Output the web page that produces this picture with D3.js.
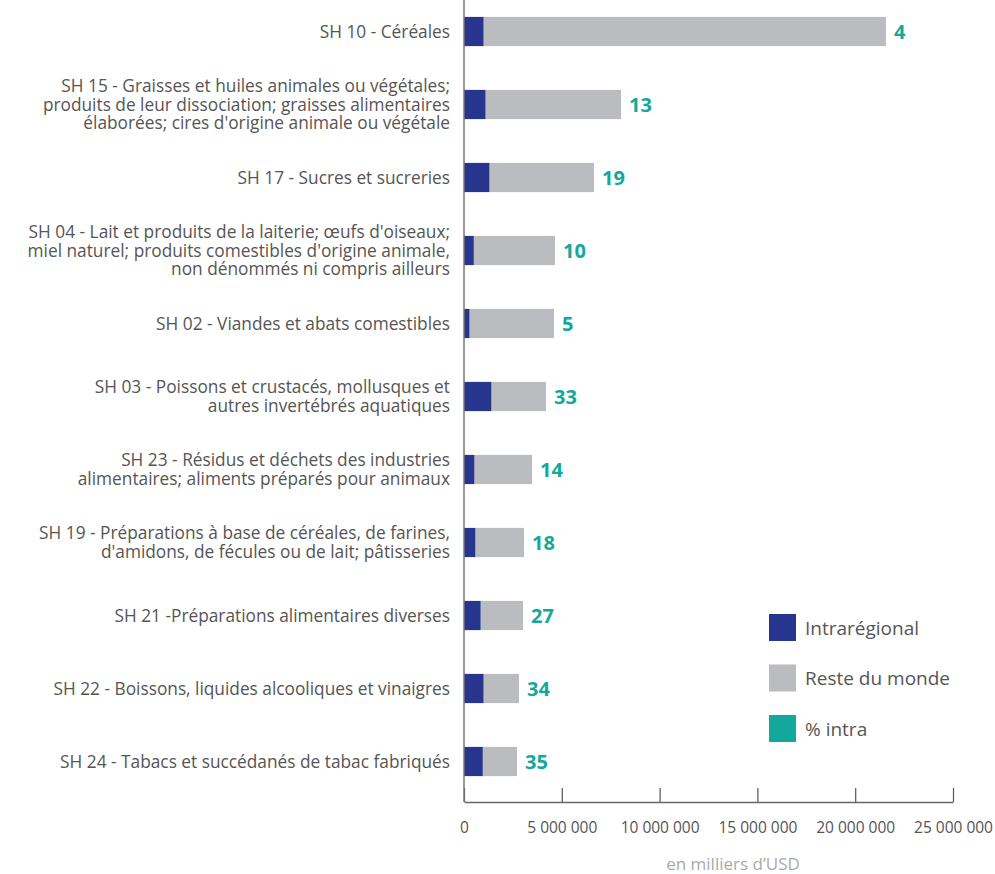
<!DOCTYPE html>
<html>
<head>
<meta charset="utf-8">
<script src="https://cdn.jsdelivr.net/npm/d3@7"></script>
<style>
  body { margin: 0; background: #fff; }
  svg { display: block; font-family: "Open Sans", "Noto Sans", sans-serif; }
</style>
</head>
<body>
<div id="chart"></div>
<script>
// catégories (une ligne par "\n")
const categories = [
  "SH 10 - Céréales",
  "SH 15 - Graisses et huiles animales ou végétales;\nproduits de leur dissociation; graisses alimentaires\nélaborées; cires d'origine animale ou végétale",
  "SH 17 - Sucres et sucreries",
  "SH 04 - Lait et produits de la laiterie; œufs d'oiseaux;\nmiel naturel; produits comestibles d'origine animale,\nnon dénommés ni compris ailleurs",
  "SH 02 - Viandes et abats comestibles",
  "SH 03 - Poissons et crustacés, mollusques et\nautres invertébrés aquatiques",
  "SH 23 - Résidus et déchets des industries\nalimentaires; aliments préparés pour animaux",
  "SH 19 - Préparations à base de céréales, de farines,\nd'amidons, de fécules ou de lait; pâtisseries",
  "SH 21 -Préparations alimentaires diverses",
  "SH 22 - Boissons, liquides alcooliques et vinaigres",
  "SH 24 - Tabacs et succédanés de tabac fabriqués"
];
// en milliers d'USD
const intraregional = [1000000, 1100000, 1300000, 500000, 280000, 1400000, 530000, 580000, 850000, 1000000, 960000];
const resteDuMonde = [20570000, 6930000, 5350000, 4150000, 4320000, 2790000, 2950000, 2490000, 2170000, 1810000, 1750000];
const pctIntra = [4, 13, 19, 10, 5, 33, 14, 18, 27, 34, 35];
const xTicks = [0, 5000000, 10000000, 15000000, 20000000, 25000000];
const legendLabels = ["Intrarégional", "Reste du monde", "% intra"];

const W = 995, H = 874;
const colBlue = "#27358f", colGray = "#bbbcc0", colTeal = "#13a89b";

const svg = d3.select("#chart").append("svg")
  .attr("width", W).attr("height", H);

const x = d3.scaleLinear().domain([0, 25000000]).range([464, 953]);
const y = d3.scaleBand().domain(categories).range([-5, 798])
  .paddingInner(0.6).paddingOuter(0.3);

const rows = categories.map((c, i) => ({
  cat: c, intra: intraregional[i], reste: resteDuMonde[i], pct: pctIntra[i]
}));

// barres empilées
const g = svg.append("g");
g.selectAll("rect.reste").data(rows).enter().append("rect")
  .attr("class", "reste")
  .attr("x", d => x(d.intra))
  .attr("y", d => y(d.cat))
  .attr("width", d => x(d.intra + d.reste) - x(d.intra))
  .attr("height", y.bandwidth())
  .attr("fill", colGray);

g.selectAll("rect.intra").data(rows).enter().append("rect")
  .attr("class", "intra")
  .attr("x", x(0))
  .attr("y", d => y(d.cat))
  .attr("width", d => x(d.intra) - x(0))
  .attr("height", y.bandwidth())
  .attr("fill", colBlue);

// % intra
g.selectAll("text.pct").data(rows).enter().append("text")
  .attr("class", "pct")
  .attr("x", d => x(d.intra + d.reste) + 8)
  .attr("y", d => y(d.cat) + y.bandwidth() / 2)
  .attr("dy", "0.36em")
  .style("font-size", "20px")
  .style("font-weight", "700")
  .style("fill", colTeal)
  .text(d => d.pct);

// libellés des catégories
const lineH = 18.5;
const labels = svg.append("g");
rows.forEach(d => {
  const lines = d.cat.split("\n");
  const cy = y(d.cat) + y.bandwidth() / 2;
  const t = labels.append("text")
    .attr("text-anchor", "end")
    .style("font-size", "17.3px")
    .style("fill", "#555");
  lines.forEach((ln, j) => {
    t.append("tspan")
      .attr("x", 450)
      .attr("y", cy + (j - (lines.length - 1) / 2) * lineH)
      .attr("dy", "0.35em")
      .text(ln);
  });
});

// axe X
const fr = d3.formatLocale({ decimal: ",", thousands: " ", grouping: [3], currency: ["", ""] });
const axis = d3.axisBottom(x).tickValues(xTicks)
  .tickSizeInner(-14).tickSizeOuter(0).tickPadding(20)
  .tickFormat(fr.format(","));
const ax = svg.append("g").attr("transform", "translate(0,802)").call(axis);
ax.select(".domain").attr("stroke", "#666").attr("stroke-width", 1.5);
ax.selectAll(".tick line").attr("stroke", "#555").attr("stroke-width", 1.2);
ax.selectAll(".tick text").style("font-size", "15.5px").style("fill", "#555")
  .style("font-family", "'Open Sans', sans-serif");

// axe vertical
svg.append("line")
  .attr("x1", x(0)).attr("x2", x(0))
  .attr("y1", 0).attr("y2", 802)
  .attr("stroke", "#777").attr("stroke-width", 1.5);

// titre de l'axe
svg.append("text")
  .attr("x", 733).attr("y", 864)
  .attr("dy", "0.35em")
  .attr("text-anchor", "middle")
  .style("font-size", "17px")
  .style("fill", "#aaa")
  .text("en milliers d’USD");

// légende
const legendColors = [colBlue, colGray, colTeal];
const lg = svg.append("g").attr("transform", "translate(769,614)");
legendLabels.forEach((l, i) => {
  const row = lg.append("g").attr("transform", `translate(0,${i * 50.5})`);
  row.append("rect").attr("width", 27).attr("height", 27).attr("fill", legendColors[i]);
  row.append("text").attr("x", 36).attr("y", 14).attr("dy", "0.35em")
    .style("font-size", "19px").style("fill", "#555").text(l);
});
</script>
</body>
</html>
